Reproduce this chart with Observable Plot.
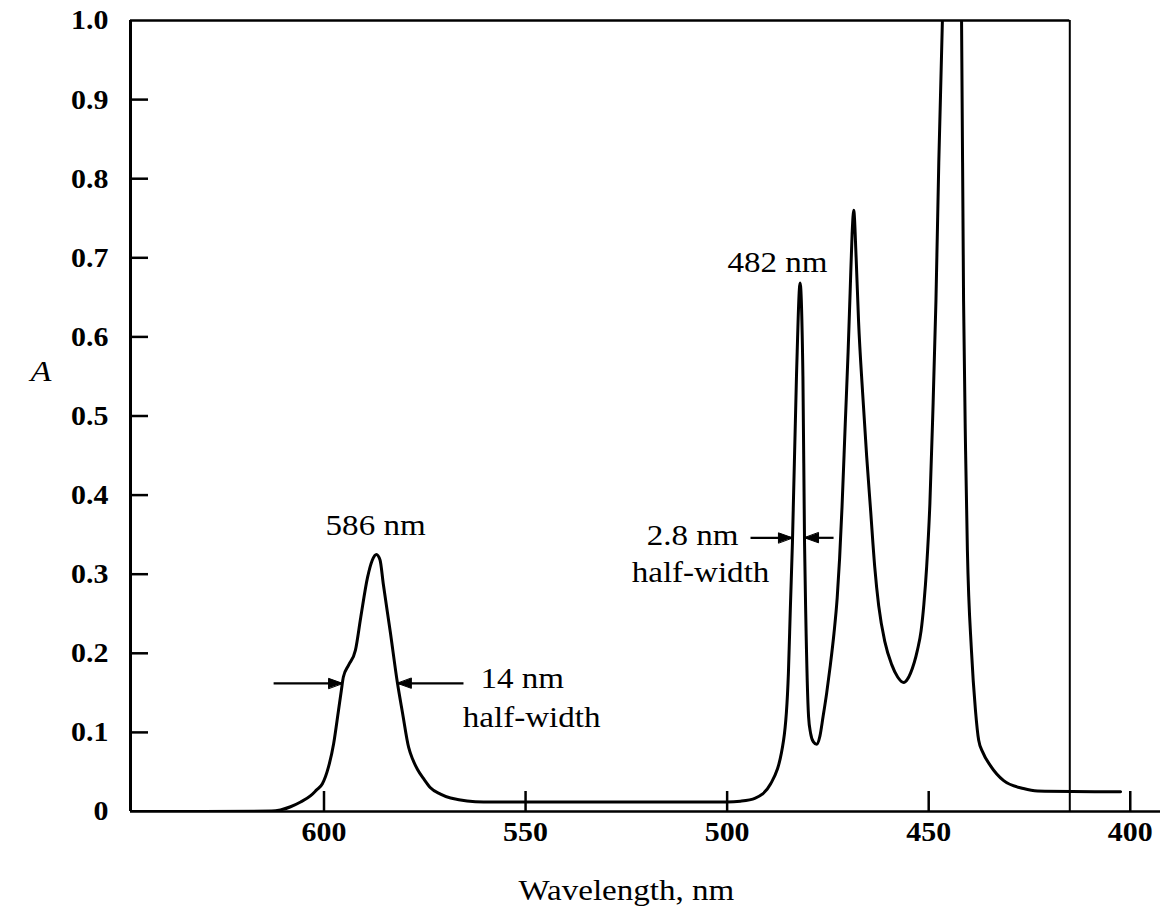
<!DOCTYPE html>
<html>
<head>
<meta charset="utf-8">
<script src="https://cdn.jsdelivr.net/npm/d3@7"></script>
<script src="https://cdn.jsdelivr.net/npm/@observablehq/plot@0.6"></script>
<style>
  html, body { margin: 0; padding: 0; background: #fff; }
  svg { display: block; }
</style>
</head>
<body>
<div id="chart"></div>
<script>
// Absorption spectrum
const wavelength = [
  647.8, 630, 613, 610.8, 608.3, 605.8, 603.3, 601.9, 600.4, 598.9,
  597.6, 596.4, 595.7, 595.2, 593.9, 592.2, 590.9, 589.2, 588.0, 587.0,
  586.1, 585.3, 583.5, 581.8, 580.5, 579.0, 578.0, 576.8, 575.1, 573.6,
  571.1, 568.6, 560.4, 530, 500, 496.7, 493, 489.2, 486.0, 484.8,
  484.3, 483.8, 482.8, 481.9, 481.2, 480.8, 480.5, 479.8, 479.3, 478.6,
  477.8, 477.0, 476.2, 475.3, 474.4, 473.5, 472.7, 472.1, 471.5, 470.7,
  470.0, 469.5, 469.0, 468.6, 468.0, 467.4, 466.4, 465.4, 464.4, 463.4,
  462.4, 460.9, 459.2, 457.7, 456.2, 455.3, 454.5, 452.8, 451.9, 451.2,
  450.5, 449.7, 449.0, 448.2, 447.5, 446.6, 445.5, 444.3, 443.0, 441.85,
  441.35, 440.85, 440.4, 439.4, 438.4, 437.6, 436.6, 434.7, 431.4, 426.5,
  423.0, 402.4
];
const absorbance = [
  0, 0, 0.0005, 0.002, 0.006, 0.012, 0.02, 0.027, 0.035, 0.056,
  0.086, 0.128, 0.153, 0.17, 0.185, 0.204, 0.245, 0.296, 0.318, 0.325,
  0.318, 0.288, 0.225, 0.163, 0.124, 0.081, 0.066, 0.053, 0.04, 0.03,
  0.022, 0.017, 0.012, 0.012, 0.012, 0.013, 0.017, 0.035, 0.09, 0.175,
  0.26, 0.34, 0.55, 0.668, 0.55, 0.34, 0.25, 0.12, 0.099, 0.088,
  0.085, 0.095, 0.12, 0.15, 0.185, 0.225, 0.27, 0.32, 0.385, 0.49,
  0.58, 0.655, 0.73, 0.76, 0.70, 0.62, 0.53, 0.45, 0.38, 0.31,
  0.26, 0.215, 0.186, 0.17, 0.163, 0.167, 0.175, 0.204, 0.228, 0.262,
  0.31, 0.39, 0.50, 0.646, 0.82, 1.0, 1.3, 1.45, 1.3, 1.0,
  0.646, 0.456, 0.33, 0.204, 0.128, 0.09, 0.075, 0.058, 0.039, 0.029,
  0.026, 0.025
];

const xTicks = [600, 550, 500, 450, 400];
const yTickLabels = [0, 0.1, 0.2, 0.3, 0.4, 0.5, 0.6, 0.7, 0.8, 0.9, 1.0];
const yTickMarks = [0.1, 0.2, 0.3, 0.4, 0.5, 0.6, 0.7, 0.8, 0.9];
const xDomain = [648, 392.5];
const frameRight = 415;   // wavelength of the right vertical frame line

const labels = [
  {text: "586 nm", x: 587.2, y: 0.361, anchor: "middle"},
  {text: "14 nm", x: 561.2, y: 0.168, anchor: "start"},
  {text: "half-width", x: 548.5, y: 0.119, anchor: "middle"},
  {text: "482 nm", x: 487.5, y: 0.694, anchor: "middle"},
  {text: "2.8 nm", x: 497.2, y: 0.349, anchor: "end"},
  {text: "half-width", x: 506.6, y: 0.302, anchor: "middle"}
];
const arrows = [
  {x1: 612.5, x2: 595.4, y: 0.162},
  {x1: 565.4, x2: 581.8, y: 0.162},
  {x1: 494.2, x2: 483.8, y: 0.346},
  {x1: 473.6, x2: 480.8, y: 0.346}
];

const spectrum = wavelength.map((w, i) => ({w, a: absorbance[i]}));
const serif = "'Liberation Serif', 'DejaVu Serif', serif";

// filled triangular arrowhead, tip at the origin, pointing "up" before rotation
const headShape = {
  draw(context) {
    context.moveTo(0, 0);
    context.lineTo(-5, 14);
    context.lineTo(5, 14);
    context.closePath();
  }
};

const plot = Plot.plot({
  width: 1165,
  height: 917,
  marginLeft: 130,
  marginRight: 5,
  marginTop: 20,
  marginBottom: 106,
  style: {fontFamily: serif, color: "#000", background: "#fff"},
  x: {domain: xDomain},
  y: {domain: [0, 1]},
  marks: [
    // frame
    Plot.ruleY([0], {stroke: "#000", strokeWidth: 2.5}),
    Plot.ruleX([xDomain[0]], {stroke: "#000", strokeWidth: 3}),
    Plot.ruleY([1], {x1: xDomain[0], x2: frameRight, stroke: "#000", strokeWidth: 2.5}),
    Plot.ruleX([frameRight], {y1: 0, y2: 1, stroke: "#000", strokeWidth: 2}),
    // inward ticks
    Plot.tickY(yTickMarks, {stroke: "#000", strokeWidth: 2.5, insetRight: 1012}),
    Plot.tickX(xTicks, {stroke: "#000", strokeWidth: 2.5, insetTop: 771}),
    // axes labels
    Plot.axisY(yTickLabels, {
      tickSize: 0, tickPadding: 22, fontSize: 28, fontWeight: "bold", label: null,
      tickFormat: d => d === 0 ? "0" : d.toFixed(1)
    }),
    Plot.axisX(xTicks, {
      tickSize: 0, tickPadding: 10, fontSize: 28, fontWeight: "bold", label: null,
      tickFormat: d => String(d)
    }),
    // spectrum
    Plot.line(spectrum, {x: "w", y: "a", curve: "monotone-x", stroke: "#000", strokeWidth: 3, clip: true}),
    // half-width arrows
    Plot.link(arrows, {x1: "x1", x2: "x2", y1: "y", y2: "y", stroke: "#000", strokeWidth: 2.2}),
    Plot.vector(arrows, {
      x: "x2", y: "y", rotate: d => (d.x2 < d.x1 ? 90 : -90), length: 14, anchor: "start",
      shape: headShape, fill: "#000", stroke: "#000", strokeWidth: 1
    }),
    // annotations
    Plot.text(labels.filter(d => d.anchor === "middle"), {x: "x", y: "y", text: "text", textAnchor: "middle", fontSize: 29, fill: "#000"}),
    Plot.text(labels.filter(d => d.anchor === "start"), {x: "x", y: "y", text: "text", textAnchor: "start", fontSize: 29, fill: "#000"}),
    Plot.text(labels.filter(d => d.anchor === "end"), {x: "x", y: "y", text: "text", textAnchor: "end", fontSize: 29, fill: "#000"}),
    // axis titles
    Plot.text(["A"], {y: 0.556, frameAnchor: "left", dx: -100, fontSize: 30, fontStyle: "italic", fill: "#000"}),
    Plot.text(["Wavelength, nm"], {x: 525, frameAnchor: "bottom", dy: 88, fontSize: 29, fill: "#000"})
  ]
});

// the reference's typeface is set slightly wide: stretch text horizontally about its anchor
d3.select(plot).selectAll("text").each(function () {
  const isTick = this.closest('[aria-label$="tick label"]') !== null;
  const s = isTick ? 1.07 : 1.14;
  const t = this.getAttribute("transform");
  if (t) {
    this.setAttribute("transform", t + ` scale(${s},1)`);
  } else {
    const x = +this.getAttribute("x") || 0, y = +this.getAttribute("y") || 0;
    this.removeAttribute("x"); this.removeAttribute("y");
    this.setAttribute("transform", `translate(${x},${y}) scale(${s},1)`);
  }
});

document.getElementById("chart").appendChild(plot);
</script>
</body>
</html>
